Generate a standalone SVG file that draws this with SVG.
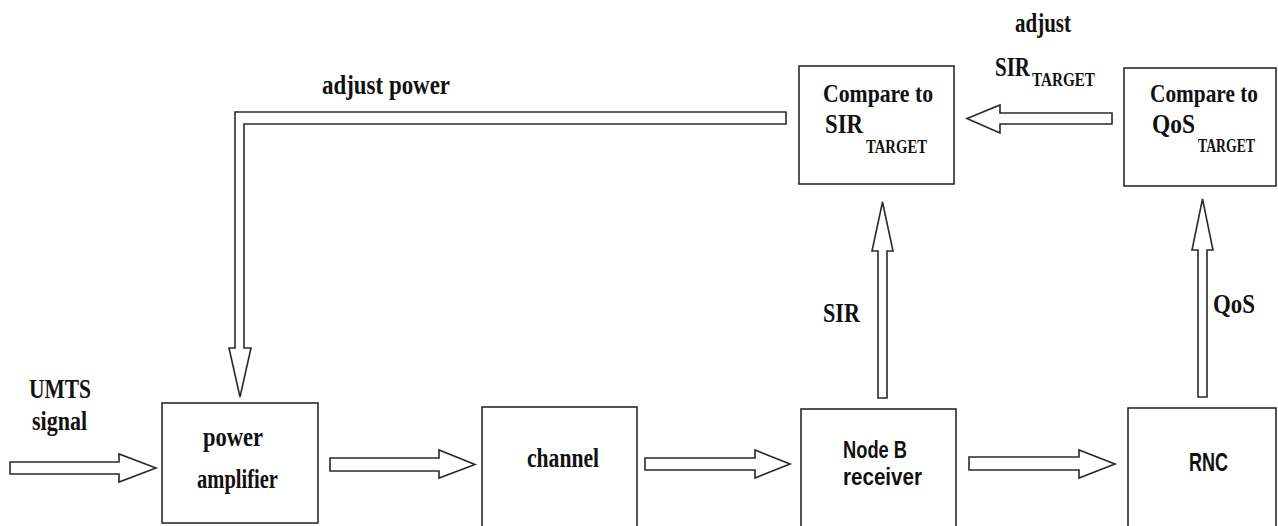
<svg xmlns="http://www.w3.org/2000/svg" width="1278" height="526" viewBox="0 0 1278 526">
<style>
.box{fill:#fff;stroke:#2a2a2a;stroke-width:1.6}
.arr{fill:#fff;stroke:#2a2a2a;stroke-width:1.6;stroke-linejoin:miter}
.t{font-family:"Liberation Serif","Times New Roman",serif;font-size:27px;font-weight:bold;fill:#111}
.c{font-size:24.5px}
.sub{font-family:"Liberation Serif","Times New Roman",serif;font-size:18px;font-weight:bold;fill:#111}
.s{font-family:"Liberation Sans",Arial,sans-serif;font-weight:bold;fill:#111}
</style>
<rect width="1278" height="526" fill="#fff"/>
<g id="connectors">
<polygon class="arr" points="10,462 119,462 119,454 156,468 119,482 119,474 10,474"/>
<polygon class="arr" points="330,458 439,458 439,450 475,464.5 439,478 439,471 330,471"/>
<polygon class="arr" points="645,458 755,458 755,450 790,464 755,478 755,470 645,470"/>
<polygon class="arr" points="969,457 1079,457 1079,450 1115,464 1079,478 1079,470 969,470"/>
<polygon class="arr" points="1112,113 1000,113 1000,105 967,118.5 1000,133 1000,124 1112,124"/>
<polygon class="arr" points="878,398 878,251 872,251 882.5,202 893,251 887,251 887,398"/>
<polygon class="arr" points="1198,397 1198,250 1192,250 1202.5,199 1213,250 1207,250 1207,397"/>
<polygon class="arr" points="786,112 235,112 235,348 229,348 240,397 251,348 244,348 244,124 786,124"/>
<text class="t" x="322" y="94" textLength="128" lengthAdjust="spacingAndGlyphs">adjust  power</text>
<text class="t" x="1015" y="32" textLength="56" lengthAdjust="spacingAndGlyphs">adjust</text>
<text class="t" x="995" y="76" textLength="35" lengthAdjust="spacingAndGlyphs">SIR</text>
<text class="sub" x="1032" y="86" textLength="63" lengthAdjust="spacingAndGlyphs">TARGET</text>
<text class="t" x="823" y="322" textLength="37" lengthAdjust="spacingAndGlyphs">SIR</text>
<text class="t" x="1213" y="313" textLength="42" lengthAdjust="spacingAndGlyphs">QoS</text>
<text class="t" x="29" y="398" textLength="62" lengthAdjust="spacingAndGlyphs">UMTS</text>
<text class="t" x="32" y="430" textLength="55" lengthAdjust="spacingAndGlyphs">signal</text>
</g>
<g id="power-amplifier">
<rect class="box" x="162" y="403" width="156" height="120"/>
<text class="t" x="203" y="446" textLength="60" lengthAdjust="spacingAndGlyphs">power</text>
<text class="t" x="197" y="488" textLength="81" lengthAdjust="spacingAndGlyphs">amplifier</text>
</g>
<g id="channel">
<rect class="box" x="482" y="407" width="155" height="130"/>
<text class="t" x="527" y="467" textLength="72" lengthAdjust="spacingAndGlyphs">channel</text>
</g>
<g id="node-b-receiver">
<rect class="box" x="801" y="409" width="155" height="130"/>
<text class="s" x="843" y="458" font-size="23" textLength="64" lengthAdjust="spacingAndGlyphs">Node B</text>
<text class="s" x="843" y="485" font-size="23" textLength="79" lengthAdjust="spacingAndGlyphs">receiver</text>
</g>
<g id="rnc">
<rect class="box" x="1128" y="408" width="148" height="130"/>
<text class="s" x="1189" y="471" font-size="26" textLength="39" lengthAdjust="spacingAndGlyphs">RNC</text>
</g>
<g id="compare-sir">
<rect class="box" x="799" y="66" width="155" height="118"/>
<text class="t c" x="823" y="102" textLength="110" lengthAdjust="spacingAndGlyphs">Compare to</text>
<text class="t" x="825" y="133" textLength="38" lengthAdjust="spacingAndGlyphs">SIR</text>
<text class="sub" x="866" y="153" textLength="61" lengthAdjust="spacingAndGlyphs">TARGET</text>
</g>
<g id="compare-qos">
<rect class="box" x="1124" y="68" width="152" height="118"/>
<text class="t c" x="1150" y="102" textLength="108" lengthAdjust="spacingAndGlyphs">Compare to</text>
<text class="t" x="1152" y="133" textLength="43" lengthAdjust="spacingAndGlyphs">QoS</text>
<text class="sub" x="1198" y="152" textLength="57" lengthAdjust="spacingAndGlyphs">TARGET</text>
</g>
</svg>
